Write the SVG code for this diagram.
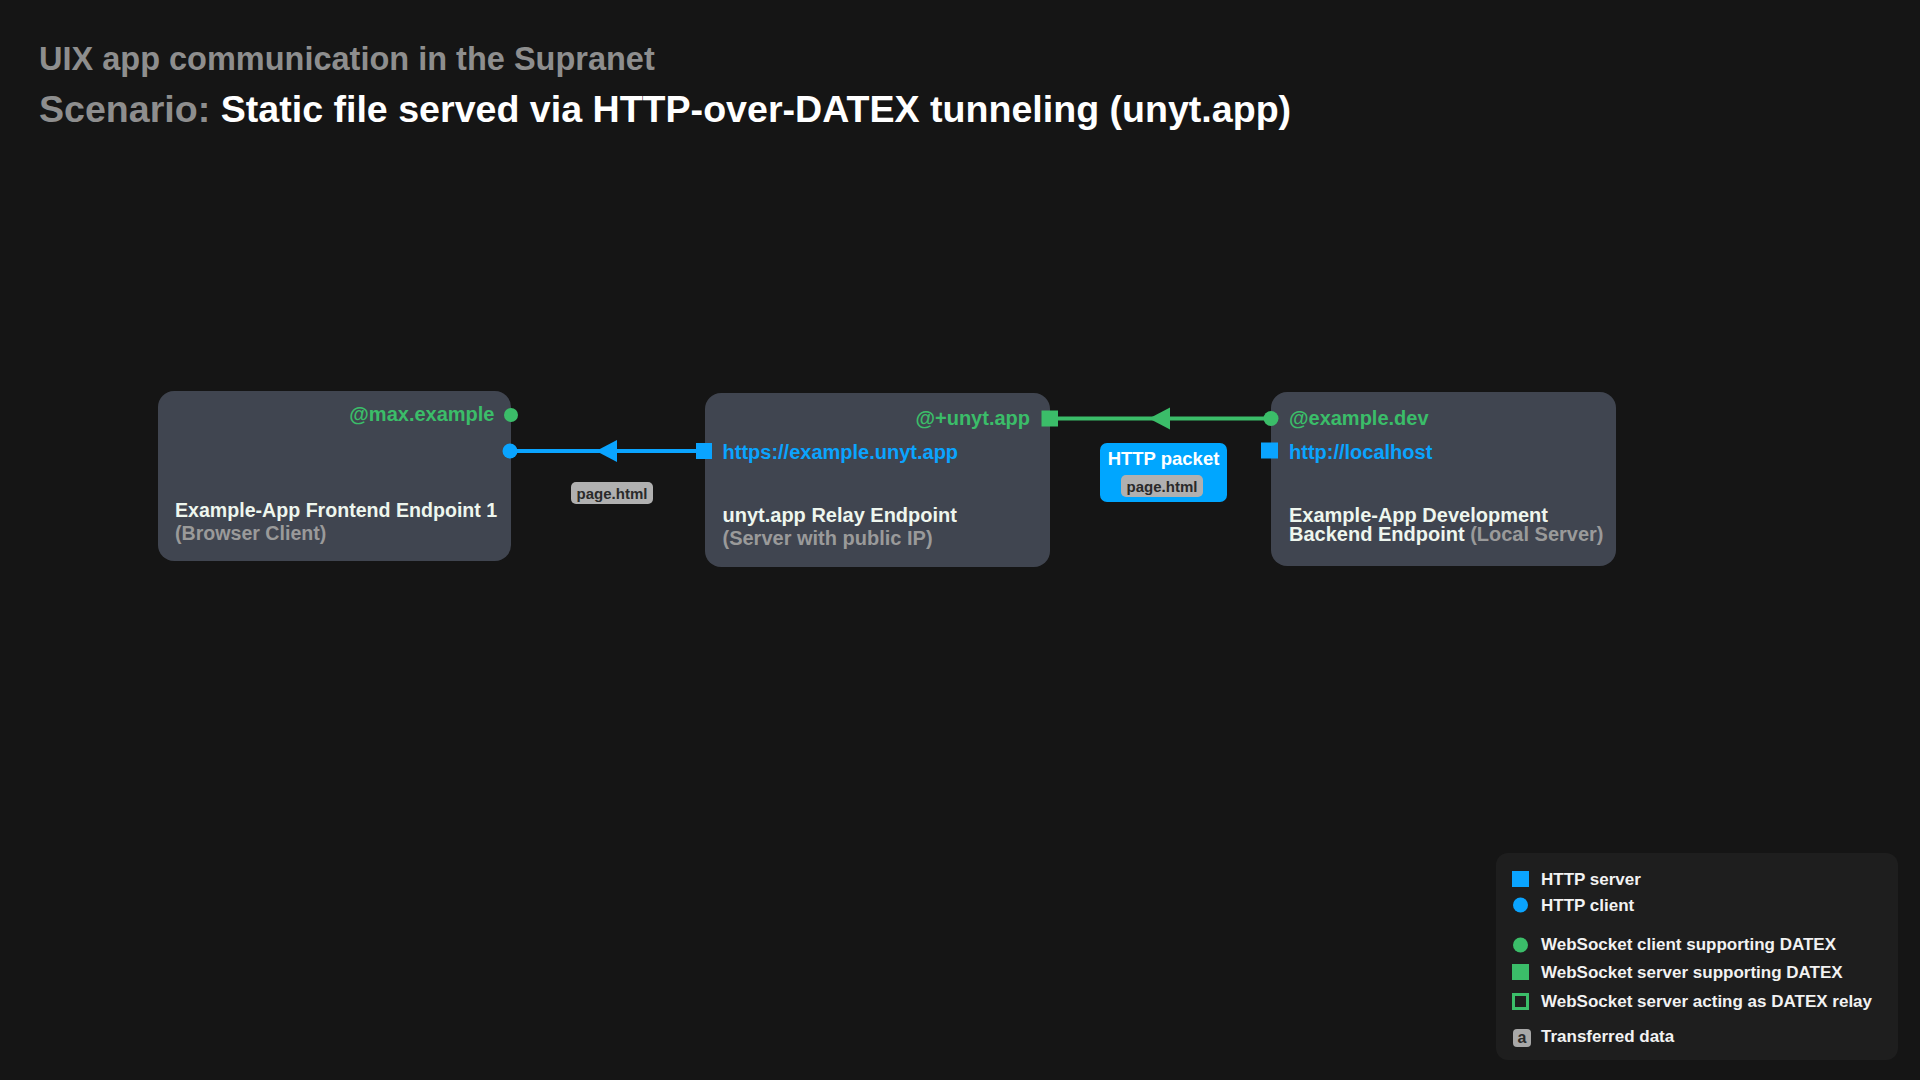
<svg xmlns="http://www.w3.org/2000/svg" width="1920" height="1080" viewBox="0 0 1920 1080">
<defs>
<style>
text{font-family:"Liberation Sans",Arial,Helvetica,sans-serif;font-weight:bold}
.title1{font-size:32.5px}
.title2{font-size:37.6px}
.gray{fill:#8e8e8e}
.white{fill:#ffffff}
.node{fill:#404550}
.nt{font-size:20px;fill:#eef6ee}
.ns{fill:#9a9a9a}
.green{fill:#3bbd69}
.blue{fill:#0aa4ff}
.addr{font-size:20px}
.lbl{fill:#b0b0b0}
.lblt{font-size:15px;fill:#2a2a2a;text-anchor:middle}
.leg{font-size:17px;fill:#f2f2f2}
</style>
<marker id="arrowBlue" markerUnits="userSpaceOnUse" markerWidth="22" markerHeight="22" refX="21" refY="11" orient="auto" overflow="visible">
<path d="M0,0 L21,11 L0,22 z" fill="#0aa4ff"/>
</marker>
<marker id="arrowGreen" markerUnits="userSpaceOnUse" markerWidth="22" markerHeight="22" refX="21" refY="11" orient="auto" overflow="visible">
<path d="M0,0 L21,11 L0,22 z" fill="#3bbd69"/>
</marker>
</defs>
<rect x="0" y="0" width="1920" height="1080" fill="#151515"/>

<g id="title">
<text x="39" y="70" class="title1 gray">UIX app communication in the Supranet</text>
<text x="39" y="121.5" class="title2"><tspan class="gray">Scenario: </tspan><tspan class="white">Static file served via HTTP-over-DATEX tunneling (unyt.app)</tspan></text>
</g>

<g id="connectors">
<path d="M704,451 L596,451 L510,451" stroke="#0aa4ff" stroke-width="4" fill="none" marker-mid="url(#arrowBlue)"/>
<path d="M1271,418.5 L1149,418.5 L1050,418.5" stroke="#3bbd69" stroke-width="4" fill="none" marker-mid="url(#arrowGreen)"/>
<g id="label-page1">
<rect x="571" y="482" width="82" height="22" rx="5" class="lbl"/>
<text x="612" y="498.5" class="lblt">page.html</text>
</g>
<g id="label-packet">
<rect x="1100" y="443" width="127" height="59" rx="7" fill="#00a6ff"/>
<text x="1163.5" y="465" font-size="18.5" class="white" text-anchor="middle">HTTP packet</text>
<rect x="1121" y="475" width="82" height="22" rx="5" class="lbl"/>
<text x="1162" y="491.5" class="lblt">page.html</text>
</g>
</g>

<g id="node-frontend">
<rect x="158" y="391" width="353" height="170" rx="16" class="node"/>
<text x="494.5" y="420.5" class="addr green" text-anchor="end" font-size="19.5">@max.example</text>
<text x="175" y="516.5" class="nt" style="font-size:19.6px">Example-App Frontend Endpoint 1</text>
<text x="175" y="540" class="nt ns" style="font-size:19.6px">(Browser Client)</text>
<circle cx="511" cy="415" r="7" class="green"/>
<circle cx="510" cy="451" r="7.5" class="blue"/>
</g>

<g id="node-relay">
<rect x="705" y="393" width="345" height="174" rx="16" class="node"/>
<text x="1030" y="425" class="addr green" text-anchor="end">@+unyt.app</text>
<text x="722.5" y="458.5" class="addr blue">https://example.unyt.app</text>
<text x="722.5" y="521.5" class="nt">unyt.app Relay Endpoint</text>
<text x="722.5" y="545" class="nt ns">(Server with public IP)</text>
<rect x="1041.5" y="410.5" width="16.5" height="16" class="green"/>
<rect x="696" y="443" width="16" height="16" class="blue"/>
</g>

<g id="node-backend">
<rect x="1271" y="392" width="345" height="174" rx="16" class="node"/>
<text x="1289" y="425" class="addr green">@example.dev</text>
<text x="1289" y="458.5" class="addr blue">http://localhost</text>
<text x="1289" y="521.5" class="nt">Example-App Development</text>
<text x="1289" y="541" class="nt">Backend Endpoint <tspan class="ns">(Local Server)</tspan></text>
<circle cx="1271" cy="418.5" r="7.5" class="green"/>
<rect x="1261" y="442.5" width="17" height="16" class="blue"/>
</g>

<g id="legend">
<rect x="1496" y="853" width="402" height="207" rx="12" fill="#1e1e1e"/>
<rect x="1512" y="871" width="17" height="16" class="blue"/>
<text x="1541" y="885" class="leg">HTTP server</text>
<circle cx="1520.5" cy="905" r="7.5" class="blue"/>
<text x="1541" y="911" class="leg">HTTP client</text>
<circle cx="1520.5" cy="945" r="7.5" class="green"/>
<text x="1541" y="950" class="leg">WebSocket client supporting DATEX</text>
<rect x="1512" y="964" width="17" height="16" class="green"/>
<text x="1541" y="978" class="leg">WebSocket server supporting DATEX</text>
<rect x="1513.5" y="994.5" width="14" height="14" fill="none" stroke="#3bbd69" stroke-width="3"/>
<text x="1541" y="1007" class="leg">WebSocket server acting as DATEX relay</text>
<rect x="1513" y="1029" width="18" height="18" rx="4" fill="#a8a8a8"/>
<text x="1522" y="1043" font-size="16" fill="#2a2a2a" text-anchor="middle">a</text>
<text x="1541" y="1042" class="leg">Transferred data</text>
</g>
</svg>
